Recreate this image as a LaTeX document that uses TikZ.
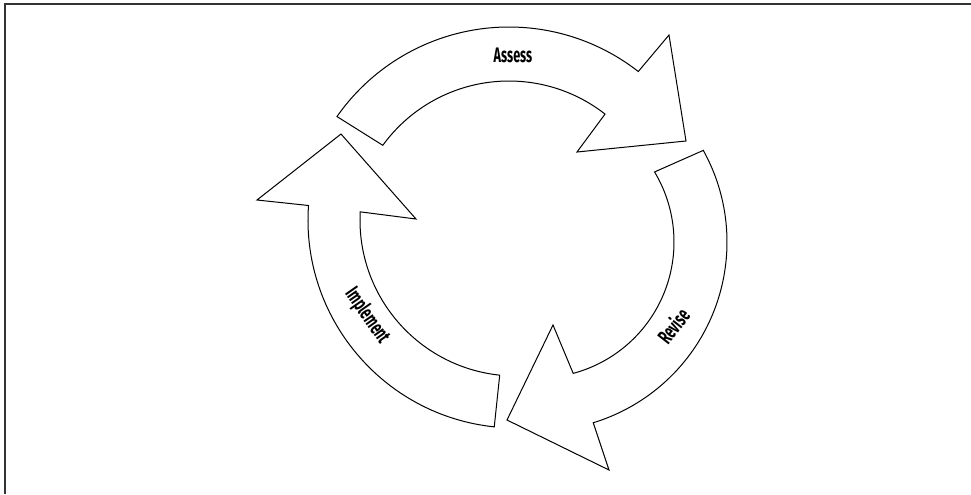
\documentclass[tikz,border=0pt]{standalone}
\usepackage{fontspec}
\usetikzlibrary{calc}
\newfontfamily\lblfont{Fira Sans}

\begin{document}
\begin{tikzpicture}[x=0.5pt, y=-0.5pt,
    cyclearrow/.style={draw, line width=0.5pt, line join=miter, fill=white},
    lbl/.style={font=\lblfont\bfseries\fontsize{10.5}{12}\selectfont, inner sep=0pt}
]
\useasboundingbox (0,0) rectangle (971,494);
% frame
\draw[line width=1pt, black!80] (4.5,494) -- (4.5,4) -- (971,4);

% centres of the three bands
\coordinate (cA) at (509,237);
\coordinate (cR) at (538,242);
\coordinate (cI) at (516,220);

% Assess
\draw[cyclearrow] ($(cA)+(-145:210)$) arc[start angle=-145, end angle=-52, radius=210]
  -- (669,35) -- (686,141) -- (577,152)
  -- ($(cA)+(-52:156)$) arc[start angle=-52, end angle=-144, radius=156] -- cycle;
% Revise
\draw[cyclearrow] ($(cR)+(-29:189)$) arc[start angle=-29, end angle=73, radius=189]
  -- (609,470) -- (507,420) -- (553,325)
  -- ($(cR)+(75:136)$) arc[start angle=75, end angle=-31, radius=136] -- cycle;
% Implement
\draw[cyclearrow] ($(cI)+(96:208)$) arc[start angle=96, end angle=184, radius=208]
  -- (257,200) -- (341,134) -- (416,219)
  -- ($(cI)+(183:156)$) arc[start angle=183, end angle=96, radius=156] -- cycle;

\node[lbl, xscale=0.6] (assess) at (513,55) {Assess};
\node[lbl, rotate=52, xscale=0.6] (revise) at (673,326) {Revise};
\node[lbl, rotate=-55, xscale=0.6] (implement) at (367,316) {Implement};
\end{tikzpicture}
\end{document}
